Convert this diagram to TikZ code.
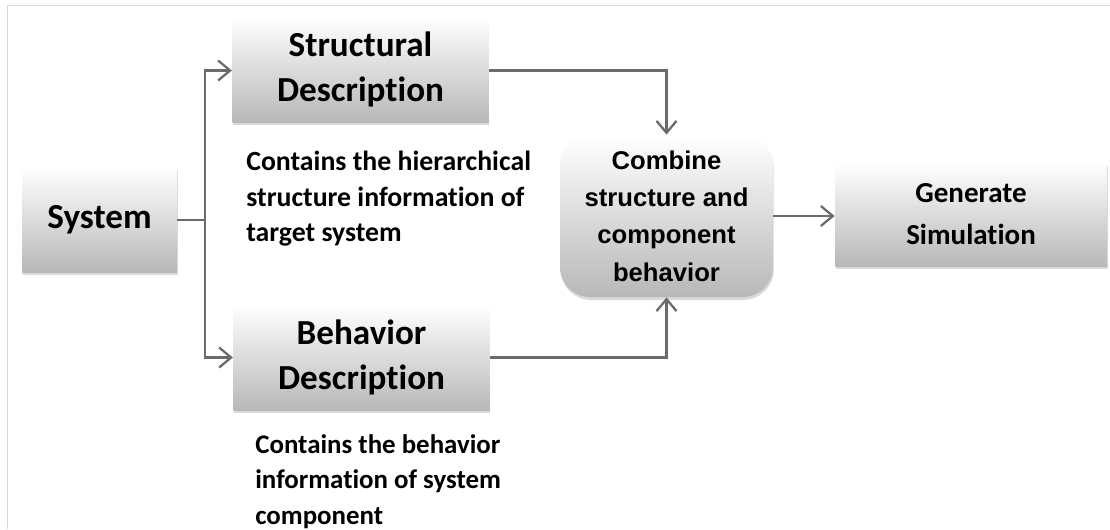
\documentclass[tikz,border=0pt]{standalone}
\usepackage{fontspec}
\setmainfont{Carlito}[Ligatures=NoCommon]
\newfontfamily\arialfont{Liberation Sans}
\usetikzlibrary{arrows.meta, positioning, shadows}
\definecolor{lnGray}{HTML}{6B6B6B}
\definecolor{frameGray}{HTML}{D9D9D9}
\tikzset{
  blockbox/.style  = {rectangle, top color=white, bottom color=black!28,
                      draw=none, align=center, inner sep=0pt,
                      drop shadow={opacity=0.30, shadow xshift=0.4pt, shadow yshift=-1.6pt}},
  descbox/.style   = {blockbox, minimum width=5.13cm, minimum height=2.12cm,
                      font=\fontsize{20}{25.5}\selectfont\bfseries},
  roundbox/.style  = {blockbox, rounded corners=0.6cm},
  notetext/.style  = {align=left, inner sep=0pt, anchor=north west},
  flowarrow/.style = {draw=lnGray, line width=1.4pt,
                      -{Straight Barb[length=2.4mm, width=4mm, line width=1.3pt]}},
  flowline/.style  = {draw=lnGray, line width=1.4pt},
}

\begin{document}
\begin{tikzpicture}[x=1cm, y=1cm]
  \useasboundingbox (0,0) rectangle (22.2,10.58);
  \draw[frameGray, line width=0.5pt] (0.14,0) -- (0.14,10.48) -- (22.2,10.48);
  % blocks
  \node[blockbox, minimum width=3.1cm, minimum height=2.1cm,
        font=\fontsize{20}{24}\selectfont\bfseries] (sys) at (1.99,6.18) {System};
  \node[descbox] (struct) at (7.21,9.19) {Structural\\Description};
  \node[descbox] (behav) at (7.23,3.43) {Behavior\\Description};
  \node[roundbox, minimum width=4.26cm, minimum height=3.24cm,
        font=\arialfont\fontsize{14.6}{21.3}\selectfont\bfseries] (comb) at (13.33,6.26)
        {Combine\\structure and\\component\\behavior};
  \node[blockbox, minimum width=5.44cm, minimum height=2.06cm,
        font=\fontsize{16.5}{24}\selectfont\bfseries] (gensim) at (19.42,6.29) {Generate\\Simulation};
  % notes
  \node[notetext, font=\fontsize{15.8}{20.2}\selectfont\bfseries] (structnote) at (4.92,7.56)
        {Contains the hierarchical\\structure information of\\target system};
  \node[notetext, font=\fontsize{15.3}{20.2}\selectfont\bfseries] (behavnote) at (5.10,1.90)
        {Contains the behavior\\information of system\\component};
  % connectors
  \coordinate (fork) at (4.10,6.18);
  \draw[flowline] (sys.east) -- (fork);
  \draw[flowarrow] (fork) |- ([yshift=-0.02cm]struct.west);
  \draw[flowarrow] (fork) |- (behav.west);
  \draw[flowarrow] ([yshift=-0.02cm]struct.east) -| (comb.north);
  \draw[flowarrow] (behav.east) -| (comb.south);
  \draw[flowarrow] (comb.east) -- (gensim.west |- comb.east);
\end{tikzpicture}
\end{document}
